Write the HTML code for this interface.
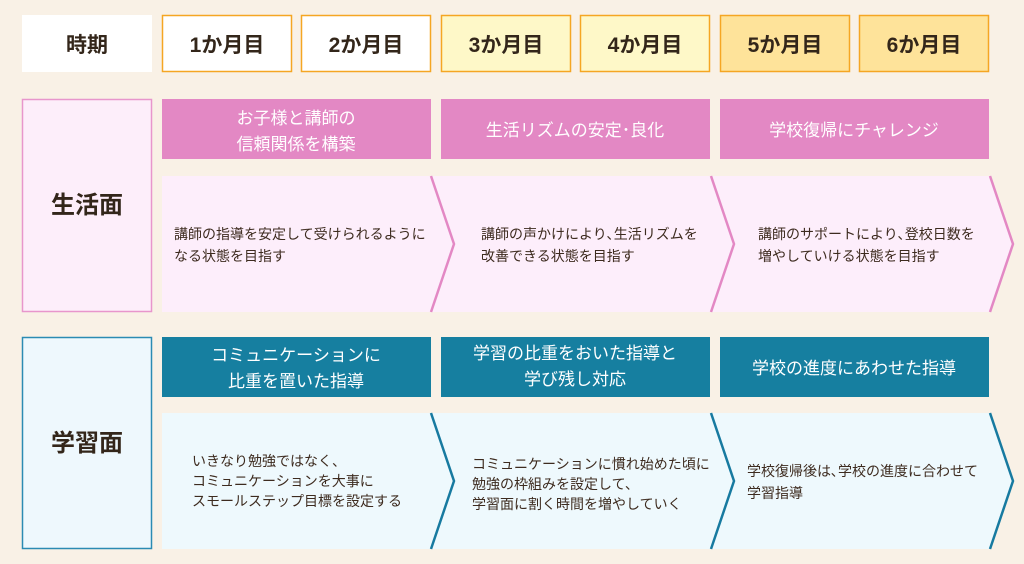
<!DOCTYPE html>
<html><head><meta charset="utf-8"><style>
html,body{margin:0;padding:0;background:#f9f1e6;}
svg{display:block}
text{font-family:"Liberation Sans","Noto Sans CJK JP",sans-serif;}
</style></head><body>
<svg width="1024" height="564" viewBox="0 0 1024 564" xmlns="http://www.w3.org/2000/svg">
<rect width="1024" height="564" fill="#f9f1e6"/>
<rect x="22" y="15" width="130" height="57" fill="#ffffff"/>
<g stroke="#f5a623" stroke-width="1.5">
<rect x="162.5" y="15.5" width="129" height="56" fill="#ffffff"/>
<rect x="301.5" y="15.5" width="129" height="56" fill="#ffffff"/>
<rect x="441.5" y="15.5" width="129" height="56" fill="#fef8c8"/>
<rect x="580.5" y="15.5" width="129" height="56" fill="#fef8c8"/>
<rect x="720.5" y="15.5" width="129" height="56" fill="#fee39a"/>
<rect x="859.5" y="15.5" width="129" height="56" fill="#fee39a"/>
</g>
<g font-size="21" font-weight="bold" fill="#33261a" text-anchor="middle">
<text x="87" y="52">時期</text>
<text x="227" y="52">1か月目</text>
<text x="366" y="52">2か月目</text>
<text x="506" y="52">3か月目</text>
<text x="645" y="52">4か月目</text>
<text x="785" y="52">5か月目</text>
<text x="924" y="52">6か月目</text>
</g>

<rect x="22.5" y="99.5" width="129" height="212" fill="#fdeefa" stroke="#e896cc" stroke-width="1.5"/>
<text x="87" y="213" font-size="24" font-weight="bold" fill="#33261a" text-anchor="middle">生活面</text>
<g fill="#e388c4">
<rect x="162" y="99" width="269" height="60"/>
<rect x="441" y="99" width="269" height="60"/>
<rect x="720" y="99" width="269" height="60"/>
</g>
<g font-size="17" fill="#ffffff" text-anchor="middle">
<text x="296" y="124">お子様と講師の</text>
<text x="296" y="150">信頼関係を構築</text>
<text x="575" y="136">生活リズムの安定･良化</text>
<text x="854" y="136">学校復帰にチャレンジ</text>
</g>
<polygon points="162,176 990,176 1013,244 990,312 162,312" fill="#fdeefb"/>
<g fill="none" stroke="#e388c4" stroke-width="2.5">
<polyline points="431,176 454,244 431,312"/>
<polyline points="711,176 734,244 711,312"/>
<polyline points="990,176 1013,244 990,312"/>
</g>
<g font-size="14" fill="#3d2b1f">
<text x="174" y="239">講師の指導を安定して受けられるように</text>
<text x="174" y="261">なる状態を目指す</text>
<text x="481" y="239">講師の声かけにより､生活リズムを</text>
<text x="481" y="261">改善できる状態を目指す</text>
<text x="758" y="239">講師のサポートにより､登校日数を</text>
<text x="758" y="261">増やしていける状態を目指す</text>
</g>

<rect x="22.5" y="337.5" width="129" height="211" fill="#eef8fd" stroke="#2b8bb3" stroke-width="1.5"/>
<text x="87" y="451" font-size="24" font-weight="bold" fill="#33261a" text-anchor="middle">学習面</text>
<g fill="#167fa0">
<rect x="162" y="337" width="269" height="60"/>
<rect x="441" y="337" width="269" height="60"/>
<rect x="720" y="337" width="269" height="60"/>
</g>
<g font-size="17" fill="#ffffff" text-anchor="middle">
<text x="296" y="361">コミュニケーションに</text>
<text x="296" y="387">比重を置いた指導</text>
<text x="575" y="359">学習の比重をおいた指導と</text>
<text x="575" y="385">学び残し対応</text>
<text x="854" y="374">学校の進度にあわせた指導</text>
</g>
<polygon points="162,413 990,413 1013,481 990,549 162,549" fill="#eef9fd"/>
<g fill="none" stroke="#177aa0" stroke-width="2.5">
<polyline points="431,413 454,481 431,549"/>
<polyline points="711,413 734,481 711,549"/>
<polyline points="990,413 1013,481 990,549"/>
</g>
<g font-size="14" fill="#3d2b1f">
<text x="192" y="466">いきなり勉強ではなく、</text>
<text x="192" y="486">コミュニケーションを大事に</text>
<text x="192" y="506">スモールステップ目標を設定する</text>
<text x="472" y="469">コミュニケーションに慣れ始めた頃に</text>
<text x="472" y="489">勉強の枠組みを設定して、</text>
<text x="472" y="509">学習面に割く時間を増やしていく</text>
<text x="747" y="476">学校復帰後は､学校の進度に合わせて</text>
<text x="747" y="498">学習指導</text>
</g>
</svg>
</body></html>
